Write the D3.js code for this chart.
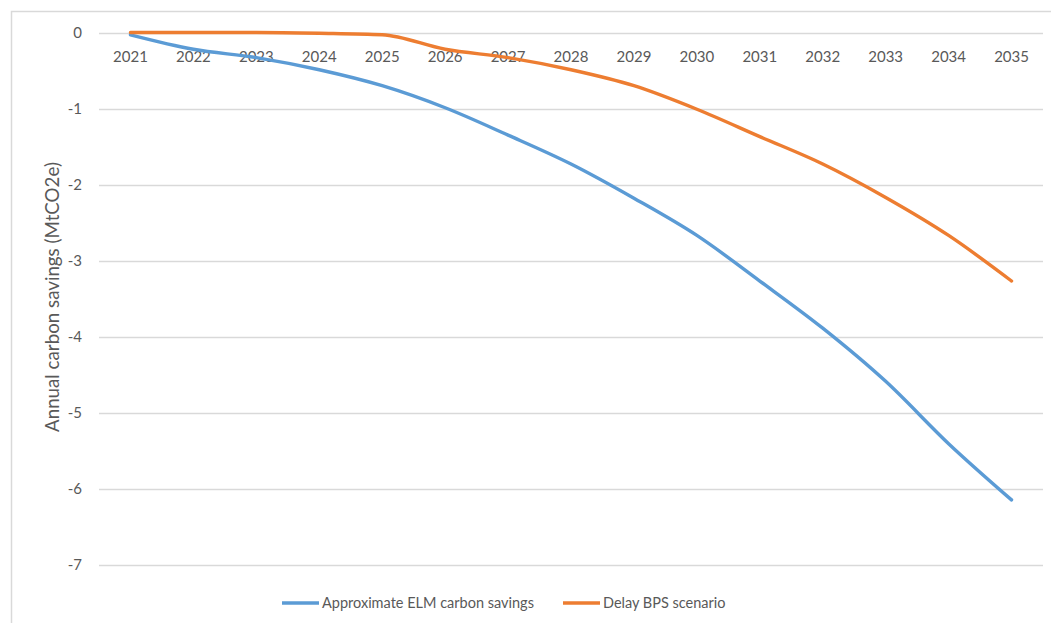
<!DOCTYPE html>
<html>
<head>
<meta charset="utf-8">
<script src="https://cdn.jsdelivr.net/npm/d3@7"></script>
<style>
  html, body { margin: 0; padding: 0; background: #fff; }
  svg { display: block; }
  text { font-family: Lato, "Open Sans", sans-serif; }
</style>
</head>
<body>
<svg id="chart" width="1051" height="623"></svg>
<script>
const years = ["2021","2022","2023","2024","2025","2026","2027","2028","2029","2030","2031","2032","2033","2034","2035"];
const elmSavings = [-0.03,-0.22,-0.33,-0.49,-0.70,-0.99,-1.35,-1.73,-2.18,-2.67,-3.27,-3.89,-4.59,-5.41,-6.15];
const delayBps   = [0,0,0,-0.01,-0.03,-0.22,-0.33,-0.49,-0.70,-1.01,-1.37,-1.73,-2.17,-2.67,-3.27];
const yTicks = [0,-1,-2,-3,-4,-5,-6,-7];
const seriesNames = ["Approximate ELM carbon savings","Delay BPS scenario"];
const seriesColors = ["#5B9BD5","#ED7D31"];
const yTitle = "Annual carbon savings (MtCO2e)";

const svg = d3.select("#chart");
const W = 1051, H = 623;
const plot = {left: 99, right: 1043, top: 32.5, bottom: 564.5};

// chart frame
svg.append("rect")
  .attr("x", 11.5).attr("y", 11.5)
  .attr("width", W + 20).attr("height", H + 20)
  .attr("fill", "#fff").attr("stroke", "#D9D9D9").attr("stroke-width", 1.5);

const x = d3.scaleBand().domain(years).range([plot.left, plot.right]);
const y = d3.scaleLinear().domain([0, -7]).range([plot.top, plot.bottom]);

// gridlines
svg.append("g").selectAll("line").data(yTicks).join("line")
  .attr("x1", plot.left).attr("x2", plot.right)
  .attr("y1", d => Math.round(y(d)) + 0.5).attr("y2", d => Math.round(y(d)) + 0.5)
  .attr("stroke", "#D9D9D9").attr("stroke-width", 1.5);

// y axis
const yAxis = svg.append("g").attr("transform", `translate(${plot.left},0)`)
  .call(d3.axisLeft(y).tickValues(yTicks).tickSize(0).tickPadding(17)
    .tickFormat(d => String(d).replace("\u2212", "-")));
yAxis.select(".domain").remove();
yAxis.selectAll("text").attr("fill", "#595959").style("font-size", "15px").style("font-family", "Lato, sans-serif");

// x axis at zero
const xAxis = svg.append("g").attr("transform", `translate(0,${y(0)})`)
  .call(d3.axisBottom(x).tickSize(0).tickPadding(19));
xAxis.select(".domain").remove();
xAxis.selectAll("text").attr("fill", "#595959").style("font-size", "15px").style("font-family", "Lato, sans-serif");

// y title (sized so its length matches the reference span)
const yt = svg.append("text")
  .attr("transform", `translate(52,297) rotate(-90)`)
  .attr("text-anchor", "middle")
  .attr("dy", "0.35em")
  .attr("fill", "#595959")
  .style("font-size", "15px")
  .text(yTitle);
const ytLen = yt.node().getComputedTextLength();
yt.style("font-size", (15 * 270 / ytLen).toFixed(2) + "px");

// lines
const line = d3.line()
  .x((d, i) => x(years[i]) + x.bandwidth() / 2)
  .y(d => y(d))
  .curve(d3.curveMonotoneX);

[elmSavings, delayBps].forEach((s, k) => {
  svg.append("path").datum(s)
    .attr("d", line)
    .attr("fill", "none")
    .attr("stroke", seriesColors[k])
    .attr("stroke-width", 3.4)
    .attr("stroke-linecap", "round")
    .attr("stroke-linejoin", "round");
});

// legend
const legendX = [282, 563];
const legendY = 603;
seriesNames.forEach((name, k) => {
  const g = svg.append("g");
  g.append("line")
    .attr("x1", legendX[k]).attr("x2", legendX[k] + 37)
    .attr("y1", legendY).attr("y2", legendY)
    .attr("stroke", seriesColors[k]).attr("stroke-width", 3.4);
  g.append("text")
    .attr("x", legendX[k] + 40).attr("y", legendY)
    .attr("dy", "0.35em")
    .attr("fill", "#595959")
    .style("font-size", "14.5px")
    .text(name);
});
</script>
</body>
</html>
